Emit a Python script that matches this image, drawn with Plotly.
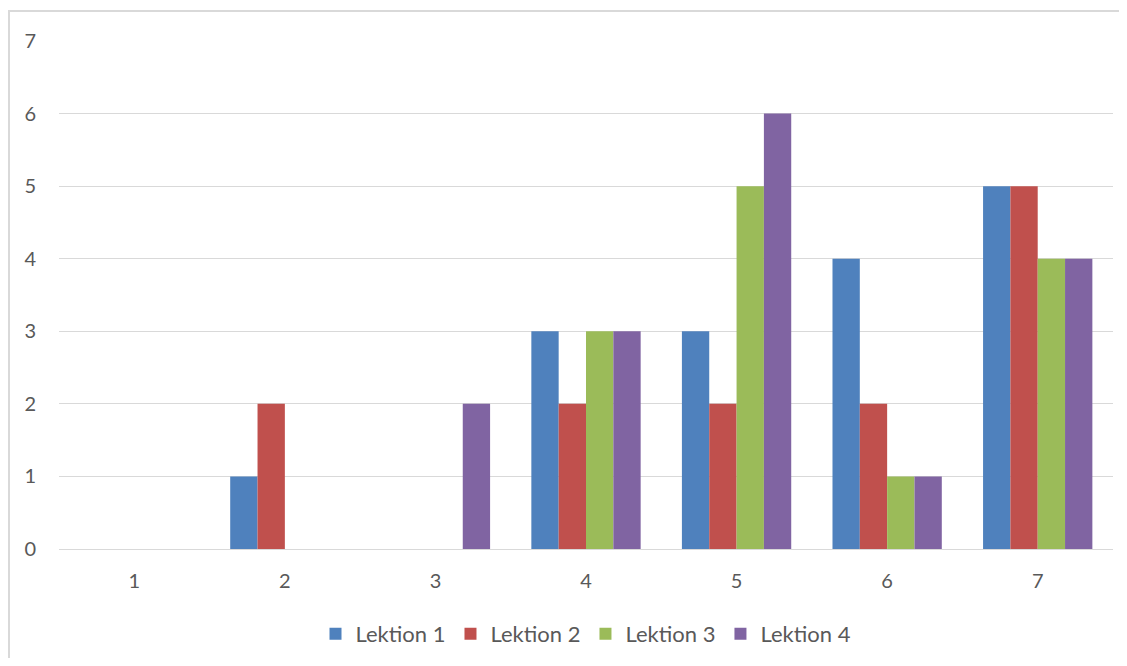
import plotly.graph_objects as go

categories = ["1", "2", "3", "4", "5", "6", "7"]
lektion1 = [0, 1, 0, 3, 3, 4, 5]
lektion2 = [0, 2, 0, 2, 2, 2, 5]
lektion3 = [0, 0, 0, 3, 5, 1, 4]
lektion4 = [0, 0, 2, 3, 6, 1, 4]
series_names = ["Lektion 1", "Lektion 2", "Lektion 3", "Lektion 4"]
colors = ["#4F81BD", "#C0504D", "#9BBB59", "#8064A2"]
y_ticks = [0, 1, 2, 3, 4, 5, 6, 7]

# page has an 8px body margin; figure sits at (8, 8)
OFF = 8
W, H = 1111, 650
L = 59 - OFF
T = 41 - OFF
R = W - (1113 - OFF)
B = H - (549 - OFF)
pw, ph = W - L - R, H - T - B

fig = go.Figure()
for name, vals, c in zip(series_names, [lektion1, lektion2, lektion3, lektion4], colors):
    fig.add_trace(go.Bar(x=categories, y=vals, name=name, marker=dict(color=c, line=dict(width=0))))

font_fam = "Lato, Open Sans, sans-serif"
fs = 20
fig.update_layout(
    width=W, height=H,
    margin=dict(l=L, r=R, t=T, b=B, autoexpand=False),
    paper_bgcolor="white", plot_bgcolor="white",
    barmode="group", bargap=0.274, bargroupgap=0,
    font=dict(family=font_fam, size=fs, color="#595959"),
    xaxis=dict(type="category", showgrid=False, showline=False, zeroline=False,
               ticks="", ticklabelstandoff=18, tickfont=dict(size=fs, color="#595959")),
    yaxis=dict(range=[0, 7], tickvals=y_ticks, showgrid=True, gridcolor="#D9D9D9", gridwidth=1,
               zeroline=True, zerolinecolor="#D9D9D9", zerolinewidth=1, showline=False,
               ticks="", ticklabelstandoff=22, tickfont=dict(size=fs, color="#595959")),
    legend=dict(orientation="h", x=0.5, xanchor="center", y=-(634 - 549) / ph, yanchor="middle",
                font=dict(size=22, color="#595959"), itemwidth=30, traceorder="normal",
                itemclick=False),
    showlegend=True,
)

# chart border (outer frame)
fig.add_shape(type="rect", xref="paper", yref="paper",
              x0=(OFF + 1 - 59) / pw, x1=(1300 - 59) / pw,
              y0=(549 - 900) / ph, y1=(549 - 11) / ph,
              line=dict(color="#D9D9D9", width=2), fillcolor="rgba(0,0,0,0)", layer="below")

fig.write_html("out.html")
